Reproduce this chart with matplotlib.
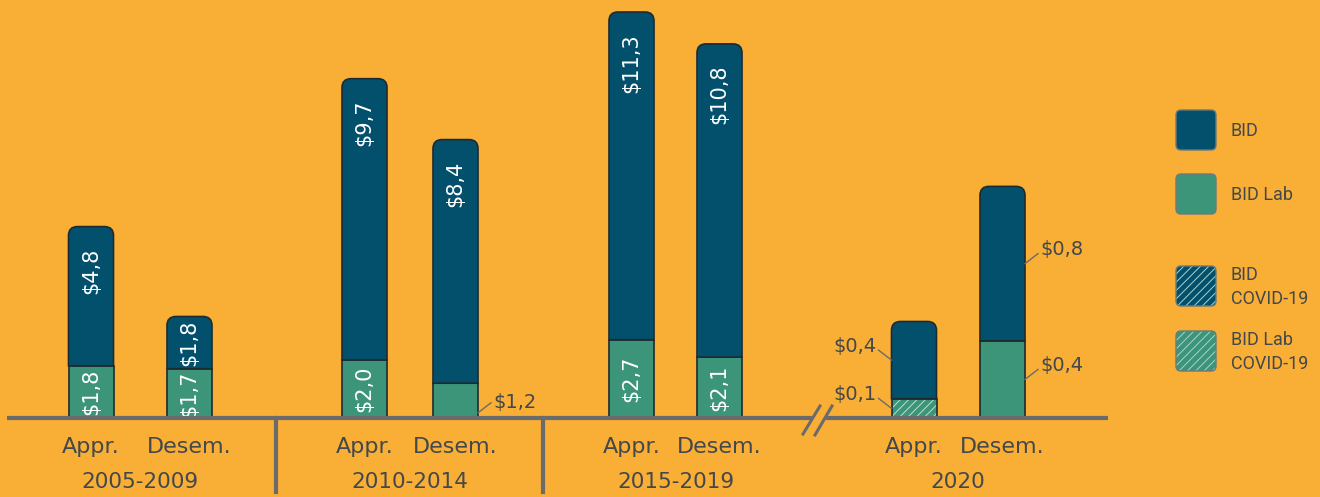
import matplotlib
matplotlib.use("Agg")
import matplotlib.pyplot as plt
from matplotlib.path import Path
from matplotlib.patches import PathPatch, Rectangle, FancyBboxPatch

plt.rcParams['text.parse_math'] = False
plt.rcParams['hatch.linewidth'] = 0.7

# data (billions USD)
periods = ['2005-2009', '2010-2014', '2015-2019', '2020']
kinds = ['Appr.', 'Desem.']
bid = [4.8, 1.8, 9.7, 8.4, 11.3, 10.8, 0.4, 0.8]
bid_lab = [1.8, 1.7, 2.0, 1.2, 2.7, 2.1, 0.1, 0.4]
lab_covid = [False, False, False, False, False, False, True, False]
bid_labels = ['$4,8', '$1,8', '$9,7', '$8,4', '$11,3', '$10,8', '$0,4', '$0,8']
lab_labels = ['$1,8', '$1,7', '$2,0', '$1,2', '$2,7', '$2,1', '$0,1', '$0,4']

# layout
W, H = 1320, 497
base_px = 418
ppu = 29.0                 # px per billion, main periods
zoom_2020 = 193.0 / ppu    # 2020 drawn on its own (broken) scale
bar_x = [91, 189.5, 364.5, 455.5, 631.5, 719.5, 914, 1002.5]
bar_w = 45
period_x = [140, 410, 675.5, 958]
# outside labels: bar index -> side
out_bid = {6: 'left', 7: 'right'}
out_lab = {3: 'right', 6: 'left', 7: 'right'}

BG = '#F9AE36'
BLUE = '#03506C'
GREEN = '#3D9579'
EDGE = '#1d2b30'
GREY = '#6b6b6b'
TXT = '#42484b'

fig = plt.figure(figsize=(W / 100, H / 100), dpi=100, facecolor=BG)
ax = fig.add_axes([0, 0, 1, 1])
ax.set_xlim(0, W)
ax.set_ylim(-(H - base_px) / ppu, base_px / ppu)
ax.axis('off')
# overlay in pixel coordinates for decorations / legend
px = fig.add_axes([0, 0, 1, 1], zorder=5)
px.set_xlim(0, W)
px.set_ylim(H, 0)
px.axis('off')
px.patch.set_alpha(0)


def rounded_top(x0, x1, y0, y1, rx, ry):
    verts = [(x0, y0), (x0, y1 - ry), (x0, y1), (x0 + rx, y1),
             (x1 - rx, y1), (x1, y1), (x1, y1 - ry), (x1, y0), (x0, y0)]
    codes = [Path.MOVETO, Path.LINETO, Path.CURVE3, Path.CURVE3,
             Path.LINETO, Path.CURVE3, Path.CURVE3, Path.LINETO, Path.CLOSEPOLY]
    return Path(verts, codes)


def to_px(y):
    return base_px - y * ppu


def side_label(x_edge, y_mid, side, text, dy=14):
    sgn = 1 if side == 'right' else -1
    ym = to_px(y_mid)
    px.plot([x_edge, x_edge + sgn * 13], [ym, ym - 10], color=GREY, lw=1)
    px.text(x_edge + sgn * 15, ym - dy, text, ha='left' if sgn > 0 else 'right',
            va='center', fontsize=14, color=TXT)


for i, x in enumerate(bar_x):
    k = zoom_2020 if i >= 6 else 1.0
    lab = bid_lab[i] * k
    top = lab + bid[i] * k
    x0, x1 = x - bar_w / 2, x + bar_w / 2
    # BID Lab segment
    if lab_covid[i]:
        ax.add_patch(Rectangle((x0, 0), bar_w, lab, facecolor=GREEN, edgecolor='#b9e0cf',
                               hatch='////', lw=0, zorder=2))
        ax.add_patch(Rectangle((x0, 0), bar_w, lab, facecolor='none', edgecolor=EDGE,
                               lw=1.2, zorder=3))
    else:
        ax.add_patch(Rectangle((x0, 0), bar_w, lab, facecolor=GREEN, edgecolor=EDGE,
                               lw=1.2, zorder=2))
    # BID segment with rounded top
    ax.add_patch(PathPatch(rounded_top(x0, x1, lab, top, 9, 9 / ppu), facecolor=BLUE,
                           edgecolor=EDGE, lw=1.2, zorder=2))

    # labels
    if i in out_lab:
        side = out_lab[i]
        xe = x1 if side == 'right' else x0
        if i == 3:
            side_label(xe, lab * 0.15, side, lab_labels[i], dy=10)
        else:
            side_label(xe, lab * 0.5, side, lab_labels[i])
    else:
        ax.text(x, lab / 2, lab_labels[i], rotation=90, ha='center', va='center',
                color='white', fontsize=15, zorder=4)
    if i in out_bid:
        side = out_bid[i]
        xe = x1 if side == 'right' else x0
        side_label(xe, lab + bid[i] * k / 2, side, bid_labels[i])
    else:
        if bid[i] * ppu > 100:
            ax.text(x, top - 21 / ppu, bid_labels[i], rotation=90, ha='center', va='top',
                    color='white', fontsize=15, zorder=4)
        else:
            ax.text(x, lab + bid[i] / 2, bid_labels[i], rotation=90, ha='center',
                    va='center', color='white', fontsize=15, zorder=4)

    px.text(x, 447, kinds[i % 2], ha='center', va='center', fontsize=16, color=TXT)

for p, xc in zip(periods, period_x):
    px.text(xc, 482, p, ha='center', va='center', fontsize=15.5, color=TXT)

# baseline with break before 2020
px.plot([7, 812], [base_px, base_px], color=GREY, lw=3, solid_capstyle='butt')
px.plot([826, 1108], [base_px, base_px], color=GREY, lw=3, solid_capstyle='butt')
px.plot([803, 820], [434, 406], color=GREY, lw=2.2)
px.plot([815, 832], [435, 406], color=GREY, lw=2.2)
for xs in [276, 543]:
    px.plot([xs, xs], [base_px, 492], color=GREY, lw=3)

# legend
leg = [('BID', BLUE, False, 110), ('BID Lab', GREEN, False, 174),
       ('BID\nCOVID-19', BLUE, True, 266), ('BID Lab\nCOVID-19', GREEN, True, 331)]
for name, col, hatched, ytop in leg:
    px.add_patch(FancyBboxPatch((1176 + 5, ytop + 5), 30, 30,
                                boxstyle='round,pad=5', facecolor=col,
                                edgecolor='#a9d2d0' if hatched else '#6a7a7a',
                                hatch='////' if hatched else None, lw=0 if hatched else 1))
    if hatched:
        px.add_patch(FancyBboxPatch((1176 + 5, ytop + 5), 30, 30,
                                    boxstyle='round,pad=5', facecolor='none',
                                    edgecolor='#6a7a7a', lw=1))
    px.text(1231, ytop + 21, name, ha='left', va='center', fontsize=13, color=TXT,
            linespacing=1.45, family=['Roboto', 'DejaVu Sans'])

fig.savefig('out.png', dpi=100, facecolor=BG)
